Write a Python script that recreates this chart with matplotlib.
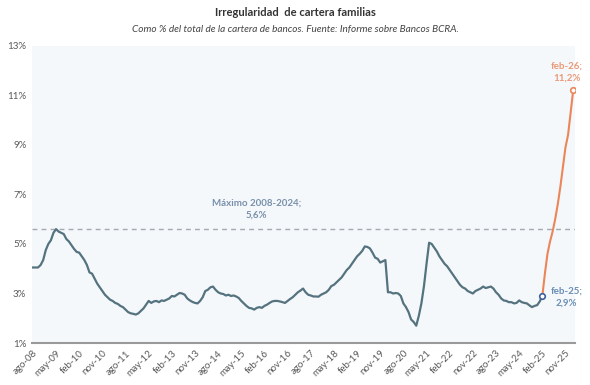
import matplotlib
matplotlib.use("Agg")
import matplotlib.pyplot as plt

plt.rcParams['font.family'] = ['Lato', 'DejaVu Sans']

#------------------------------------------------Datos (mensual, ago-08 a feb-26)

# irregularidad cartera familias, % (ago-08 ... feb-25)
irreg_fam = [
    4.05, 4.05, 4.05, 4.15, 4.35,                                      # 2008 ago-dic
    4.75, 5.0, 5.15, 5.45, 5.6, 5.5, 5.45, 5.4, 5.2, 5.1, 4.95, 4.8,   # 2009
    4.68, 4.65, 4.5, 4.35, 4.15, 3.85, 3.8, 3.6, 3.4, 3.25, 3.1, 2.95, # 2010
    2.85, 2.75, 2.7, 2.62, 2.58, 2.5, 2.45, 2.35, 2.25, 2.2, 2.18, 2.15, # 2011
    2.2, 2.3, 2.4, 2.55, 2.7, 2.62, 2.68, 2.7, 2.65, 2.72, 2.7, 2.75,  # 2012
    2.8, 2.9, 2.88, 2.95, 3.02, 3.0, 2.95, 2.8, 2.72, 2.66, 2.62, 2.6, # 2013
    2.7, 2.85, 3.1, 3.15, 3.25, 3.28, 3.15, 3.05, 3.0, 2.98, 2.92, 2.95, # 2014
    2.9, 2.92, 2.88, 2.82, 2.7, 2.6, 2.5, 2.42, 2.4, 2.35, 2.42, 2.45, # 2015
    2.42, 2.5, 2.55, 2.62, 2.68, 2.7, 2.7, 2.68, 2.65, 2.62, 2.7, 2.78, # 2016
    2.85, 2.95, 3.05, 3.12, 3.2, 3.05, 2.95, 2.92, 2.88, 2.88, 2.87, 2.95, # 2017
    3.0, 3.05, 3.15, 3.3, 3.35, 3.45, 3.55, 3.65, 3.8, 3.95, 4.05, 4.2, # 2018
    4.35, 4.5, 4.6, 4.72, 4.9, 4.88, 4.82, 4.65, 4.45, 4.4, 4.25, 4.3, # 2019
    4.35, 3.05, 3.05, 3.0, 3.02, 3.0, 2.9, 2.6, 2.45, 2.25, 1.95, 1.85, # 2020
    1.7, 2.1, 2.6, 3.3, 4.2, 5.05, 5.0, 4.85, 4.7, 4.5, 4.35, 4.2,     # 2021
    4.1, 3.95, 3.8, 3.65, 3.5, 3.35, 3.25, 3.2, 3.1, 3.05, 3.0, 3.1,   # 2022
    3.15, 3.2, 3.28, 3.22, 3.25, 3.28, 3.2, 3.05, 2.95, 2.8, 2.72, 2.7, # 2023
    2.65, 2.65, 2.6, 2.62, 2.72, 2.65, 2.62, 2.6, 2.52, 2.45, 2.5, 2.53, # 2024
    2.68, 2.9,                                                          # 2025 ene-feb
]

# proyeccion feb-25 ... feb-26
proyeccion = [2.9, 3.8, 4.6, 5.1, 5.5, 6.0, 6.6, 7.3, 8.1, 8.9, 9.4, 10.3, 11.2]

maximo = 5.6

xlabels = ['ago-08', 'may-09', 'feb-10', 'nov-10', 'ago-11', 'may-12', 'feb-13', 'nov-13',
           'ago-14', 'may-15', 'feb-16', 'nov-16', 'ago-17', 'may-18', 'feb-19', 'nov-19',
           'ago-20', 'may-21', 'feb-22', 'nov-22', 'ago-23', 'may-24', 'feb-25', 'nov-25']
ylabels = ['1%', '3%', '5%', '7%', '9%', '11%', '13%']

#------------------------------------------------Calculos

x_blue = list(range(len(irreg_fam)))
x0 = len(irreg_fam) - 1
x_proy = list(range(x0, x0 + len(proyeccion)))

azul = '#55737f'
naranja = '#ea8659'

#------------------------------------------------Grafico

fig = plt.figure(figsize=(5.9, 3.85), dpi=100)
ax = fig.add_axes([0.054, 0.109, 0.921, 0.772])
ax.set_facecolor('#f5f8fb')

ax.axhline(maximo, color='#a3abb2', lw=1, ls=(0, (3.5, 3)))
ax.plot(x_proy, proyeccion, color=naranja, lw=1.5, zorder=3)
ax.plot(x_blue, irreg_fam, color=azul, lw=1.6, zorder=4)
ax.plot(x_proy[0], proyeccion[0], 'o', ms=4, mfc='white', mec='#3e5f9c', mew=1.2, zorder=5)
ax.plot(x_proy[-1], proyeccion[-1], 'o', ms=4, mfc='white', mec=naranja, mew=1.2, zorder=5)

ax.text(87, 5.98, 'Máximo 2008-2024;\n5,6%', ha='center', va='bottom', fontsize=7,
        fontweight='bold', color='#7890aa', linespacing=1.4)
ax.text(207.5, 2.85, 'feb-25;\n2,9%', ha='center', va='center', fontsize=7,
        fontweight='bold', color='#6b8fb3', linespacing=1.4)
ax.text(207.5, 11.95, 'feb-26;\n11,2%', ha='center', va='center', fontsize=7,
        fontweight='bold', color='#eb9a78', linespacing=1.4)

ax.set_xlim(-0.4, 210.8)
ax.set_ylim(1, 13)
ax.set_xticks(range(0, 9 * len(xlabels), 9))
ax.set_xticklabels(xlabels, rotation=45, ha='right', rotation_mode='anchor',
                   fontsize=7, color='#595959')
ax.set_yticks([1, 3, 5, 7, 9, 11, 13])
ax.set_yticklabels(ylabels, fontsize=7, color='#595959')
ax.tick_params(length=0, pad=4)
ax.tick_params(axis='x', pad=4)

for s in ['top', 'right', 'left']:
    ax.spines[s].set_visible(False)
ax.spines['bottom'].set_color('#9a9a9a')
ax.spines['bottom'].set_linewidth(1.5)

fig.text(0.5, 0.968, 'Irregularidad  de cartera familias', ha='center', va='center',
         fontsize=8, fontweight='bold', color='#333333')
fig.text(0.5, 0.924, 'Como % del total de la cartera de bancos. Fuente: Informe sobre Bancos BCRA.',
         ha='center', va='center', fontsize=7.2, style='italic', color='#444444')

fig.savefig('out.png', dpi=100)
